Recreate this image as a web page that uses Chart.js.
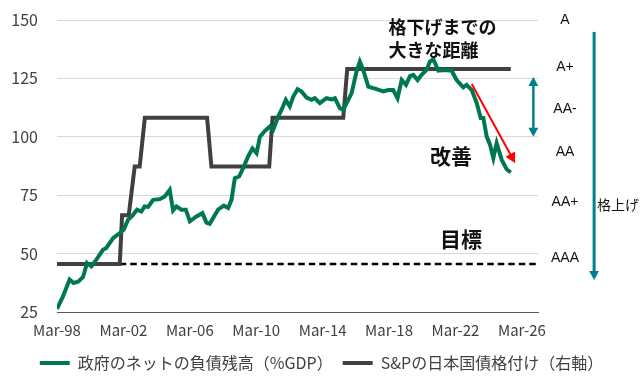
<!DOCTYPE html>
<html><head><meta charset="utf-8">
<script src="https://cdn.jsdelivr.net/npm/chart.js@4"></script>
<style>html,body{margin:0;padding:0;background:#fff}</style>
</head><body>
<canvas id="c" width="643" height="380" style="width:643px;height:380px;display:block"></canvas>
<script>
// ---- data (x in decimal years) ----
const debtYears = [1998.16,1998.52,1998.92,1999.16,1999.43,1999.73,1999.97,2000.23,2000.53,2000.93,2001.13,2001.54,2001.94,2002.18,2002.44,2002.74,2002.98,2003.24,2003.44,2003.65,2003.95,2004.35,2004.65,2004.95,2005.15,2005.35,2005.65,2005.92,2006.16,2006.56,2006.92,2007.16,2007.36,2007.86,2008.21,2008.47,2008.67,2008.87,2009.13,2009.37,2009.67,2009.93,2010.18,2010.38,2010.68,2010.98,2011.18,2011.48,2011.68,2011.94,2012.18,2012.39,2012.65,2012.89,2013.19,2013.49,2013.69,2013.99,2014.39,2014.70,2014.90,2015.20,2015.40,2015.60,2015.90,2016.20,2016.40,2016.60,2016.91,2017.41,2017.81,2018.11,2018.41,2018.67,2018.92,2019.18,2019.42,2019.62,2019.88,2020.12,2020.42,2020.62,2020.82,2021.13,2021.53,2021.93,2022.23,2022.63,2022.83,2023.14,2023.44,2023.68,2023.84,2024.04,2024.24,2024.44,2024.64,2024.94,2025.24,2025.49];
const debtValues = [26.3,31.7,38.9,37.4,38.0,40.0,46.0,44.5,47.4,51.6,52.4,56.6,58.8,60.2,64.5,66.6,68.8,68.0,70.2,70.0,73.0,73.3,74.5,77.3,68.5,70.2,68.8,68.8,63.8,65.9,67.3,63.3,62.8,68.8,70.5,69.5,73.0,82.3,83.0,86.6,91.6,95.0,93.0,100.0,102.5,104.4,103.0,108.7,111.5,115.8,113.0,117.2,120.4,119.4,116.8,115.8,116.5,114.4,116.5,116.0,116.5,112.2,111.5,114.4,118.6,127.9,132.2,128.6,121.5,120.4,119.4,120.0,120.0,116.5,124.3,122.2,126.0,126.5,124.3,126.5,128.6,132.2,133.2,128.3,128.6,128.3,124.3,121.2,122.2,120.0,114.4,108.0,108.0,100.1,96.6,90.9,97.3,90.2,86.1,84.7];
const ratingYears = [1998.16,2001.94,2002.08,2002.48,2002.84,2003.14,2003.45,2007.20,2007.46,2010.94,2011.14,2015.40,2015.64,2025.49];
const ratingValues = ['AAA','AAA','AA+','AA+','AA','AA','AA-','AA-','AA','AA','AA-','AA-','A+','A+'];
const targetYears = [2001.94, 2027.13];
const targetValues = ['AAA','AAA'];
const ratingScale = ['AAA','AA+','AA','AA-','A+','A'];
const xTickYears = [1998.16,2002.16,2006.16,2010.16,2014.16,2018.16,2022.16,2026.16];
const xTickLabels = ['Mar-98','Mar-02','Mar-06','Mar-10','Mar-14','Mar-18','Mar-22','Mar-26'];
const yTicks = [25,50,75,100,125,150];
const seriesNames = ['政府のネットの負債残高（%GDP）','S&Pの日本国債格付け（右軸）'];

const GREEN = '#00784F', GRAY = '#404040', TEAL = '#007F8C', RED = '#FF0000';
const JP = '"Noto Sans CJK JP","Noto Sans",sans-serif';

function arrowHead(ctx, x1, y1, x2, y2, size, color) {
  const a = Math.atan2(y2 - y1, x2 - x1);
  ctx.save();
  ctx.fillStyle = color;
  ctx.beginPath();
  ctx.moveTo(x2, y2);
  ctx.lineTo(x2 - size * Math.cos(a) + size * 0.55 * Math.sin(a), y2 - size * Math.sin(a) - size * 0.55 * Math.cos(a));
  ctx.lineTo(x2 - size * Math.cos(a) - size * 0.55 * Math.sin(a), y2 - size * Math.sin(a) + size * 0.55 * Math.cos(a));
  ctx.closePath();
  ctx.fill();
  ctx.restore();
}
function arrowLine(ctx, x1, y1, x2, y2, w, size, color, both) {
  const a = Math.atan2(y2 - y1, x2 - x1);
  ctx.save();
  ctx.strokeStyle = color; ctx.lineWidth = w;
  ctx.beginPath();
  ctx.moveTo(both ? x1 + size * 0.8 * Math.cos(a) : x1, both ? y1 + size * 0.8 * Math.sin(a) : y1);
  ctx.lineTo(x2 - size * 0.8 * Math.cos(a), y2 - size * 0.8 * Math.sin(a));
  ctx.stroke();
  ctx.restore();
  arrowHead(ctx, x1, y1, x2, y2, size, color);
  if (both) arrowHead(ctx, x2, y2, x1, y1, size, color);
}

const annotations = {
  id: 'annotations',
  afterDatasetsDraw(chart) {
    const {ctx, scales: {x, y}} = chart;
    const px = v => x.getPixelForValue(v), py = v => y.getPixelForValue(v);
    ctx.save();
    ctx.fillStyle = '#111';
    ctx.textBaseline = 'middle';
    ctx.textAlign = 'left';
    ctx.font = 'bold 18px ' + JP;
    ctx.fillText('格下げまでの', px(2018.12), py(146.8));
    ctx.fillText('大きな距離', px(2018.12), py(137.0));
    ctx.font = 'bold 21px ' + JP;
    ctx.fillText('改善', px(2020.62), py(91.8));
    ctx.fillText('目標', px(2021.23), py(56.3));
    ctx.font = '14px ' + JP;
    ctx.fillText('格上げ', px(2030.69), py(70.8));
    ctx.restore();
    arrowLine(ctx, px(2023.14), py(122.6), px(2025.75), py(88.8), 2, 10, RED, false);
    arrowLine(ctx, px(2026.85), py(125.6), px(2026.85), py(100.0), 2.5, 9, TEAL, true);
    arrowLine(ctx, px(2030.51), py(144.9), px(2030.51), py(38.7), 3, 9, TEAL, false);
  }
};

// fixes the legend band height so that the plot area lands where the reference has it
const legendBand = {
  id: 'legendBand',
  beforeLayout(chart) {
    const lg = chart.legend;
    if (lg && !lg._bandPatched) {
      const orig = lg.fit;
      lg.fit = function () { orig.call(this); this.height = 35; };
      lg._bandPatched = true;
    }
  }
};
const noOverhang = s => { s.paddingTop = 0; s.paddingBottom = 0; };

new Chart(document.getElementById('c'), {
  type: 'line',
  data: {
    datasets: [
      { label: seriesNames[0], data: debtYears.map((v, i) => ({x: v, y: debtValues[i]})),
        borderColor: GREEN, backgroundColor: GREEN, borderWidth: 4, pointRadius: 0, tension: 0, yAxisID: 'y' },
      { label: seriesNames[1], data: ratingYears.map((v, i) => ({x: v, y: ratingScale.indexOf(ratingValues[i])})),
        borderColor: GRAY, backgroundColor: GRAY, borderWidth: 4, pointRadius: 0, tension: 0, yAxisID: 'y2' },
      { label: 'target', data: targetYears.map((v, i) => ({x: v, y: ratingScale.indexOf(targetValues[i])})),
        borderColor: '#000', borderWidth: 2.5, borderDash: [6.5, 4], pointRadius: 0, yAxisID: 'y2' }
    ]
  },
  options: {
    responsive: false,
    animation: false,
    devicePixelRatio: 1,
    layout: { padding: { top: 20, bottom: 0, left: 0, right: 0 } },
    plugins: {
      tooltip: { enabled: false },
      legend: {
        position: 'bottom',
        labels: {
          boxWidth: 30, boxHeight: 4, padding: 10, color: '#404040',
          font: { family: JP, size: 16 },
          generateLabels(chart) {
            return chart.data.datasets.slice(0, 2).map((ds, i) => ({
              text: ds.label, fillStyle: ds.borderColor, strokeStyle: ds.borderColor,
              lineWidth: 0, hidden: false, datasetIndex: i, fontColor: '#404040'
            }));
          }
        }
      }
    },
    scales: {
      x: {
        type: 'linear', min: 1998.16, max: 2027.13,
        afterBuildTicks(s) { s.ticks = xTickYears.map(v => ({value: v})); },
        afterFit(s) { s.height = 33; s.paddingLeft = 0; s.paddingRight = 0; },
        ticks: { callback: (v, i) => xTickLabels[i], color: '#404040', font: { family: JP, size: 15 }, padding: 9, maxRotation: 0, autoSkip: false },
        grid: { display: false, drawTicks: false },
        border: { display: true, color: '#595959', width: 1 }
      },
      y: {
        position: 'left', min: 25, max: 150,
        afterBuildTicks(s) { s.ticks = yTicks.map(v => ({value: v})); },
        afterFit(s) { s.width = 57; noOverhang(s); },
        ticks: { color: '#404040', font: { family: JP, size: 16 }, padding: 19 },
        grid: { color: '#d9d9d9', lineWidth: 1, drawTicks: false },
        border: { display: false }
      },
      y2: {
        position: 'right', min: (25 - 45.5) / 20.875, max: (150 - 45.5) / 20.875,
        afterBuildTicks(s) { s.ticks = [0.12, 1.28, 2.30, 3.18, 4.04, 5.0].map(v => ({value: v})); },
        afterFit(s) { s.width = 105; noOverhang(s); },
        ticks: { callback: (v, i) => ratingScale[i], color: '#111', font: { family: '"Liberation Sans",Arial,sans-serif', size: 14 }, padding: 13, crossAlign: 'center' },
        grid: { display: false, drawTicks: false },
        border: { display: false }
      }
    }
  },
  plugins: [legendBand, annotations]
});
</script>
</body></html>
